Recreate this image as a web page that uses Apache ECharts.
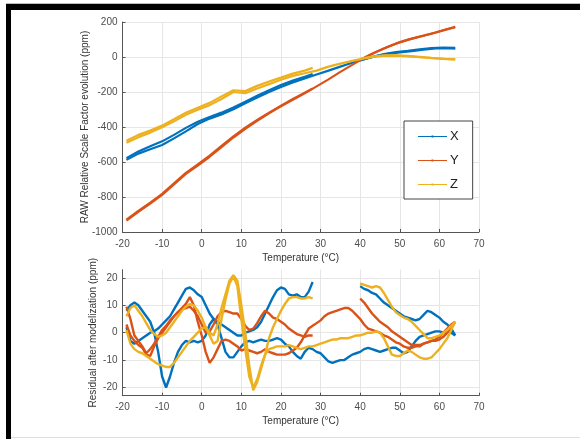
<!DOCTYPE html>
<html><head><meta charset="utf-8">
<script src="https://cdn.jsdelivr.net/npm/echarts@6/dist/echarts.min.js"></script>
<style>html,body{margin:0;padding:0;background:#fff}#c{width:580px;height:439px}</style>
</head><body><div id="c"></div>
<script>
// ---- tick labels ----
const xTicks = [-20,-10,0,10,20,30,40,50,60,70];
const rawYTicks = [-1000,-800,-600,-400,-200,0,200];
const resYTicks = [-20,-10,0,10,20];
const legendNames = ['X','Y','Z'];

// ---- raw scale factor (top) temperatures ----
const rawTCold = [-19,-16,-13,-10,-7,-4,-1,2,5,8,11,14,17,20,23,26,28];
const rawTFull = [-19,-16,-13,-10,-7,-4,-1,2,5,8,11,14,17,20,23,26,29,32,35,38,41,44,47,50,53,56,59,62,64];
const rawTWarm = [40,43,46,49,52,55,58,61,64];
// X
const rawXCold = [-578,-540,-510,-482,-445,-405,-370,-343,-318,-288,-255,-222,-190,-160,-135,-113,-97];
const rawXFull = [-588,-552,-527,-503,-465,-425,-383,-352,-328,-298,-264,-232,-200,-172,-145,-122,-100,-78,-55,-33,-12,5,18,26,33,42,49,50,48];
const rawXWarm = [-20,0,17,28,35,44,51,54,52];
// Y
const rawYCold = [-930,-880,-832,-782,-722,-662,-614,-564,-508,-453,-404,-360,-318,-278,-240,-204,-180];
const rawYFull = [-935,-885,-838,-788,-728,-668,-620,-570,-515,-460,-410,-365,-322,-282,-245,-208,-168,-128,-85,-45,-5,28,58,85,105,122,140,160,172];
const rawYWarm = [-15,18,48,76,98,116,133,152,170];
// Z
const rawZCold = [-478,-445,-420,-392,-355,-318,-290,-262,-225,-190,-195,-165,-140,-118,-95,-78,-62];
const rawZFull = [-490,-458,-432,-402,-367,-330,-302,-275,-240,-200,-207,-180,-155,-130,-108,-93,-78,-55,-38,-22,-8,3,8,6,2,-3,-8,-12,-14];
const rawZWarm = [-10,2,9,10,6,1,-5,-10,-14];

// ---- residual (bottom) temperatures ----
const resTFull = [-19,-18,-17,-16,-15,-14,-13,-12,-11,-10,-9,-8,-7,-6,-5,-4,-3,-2,-1,0,1,2,3,4,5,6,7,8,9,10,11,12,13,14,15,16,17,18,19,20,21,22,23,24,25,26,27,28,29,30,31,32,33,34,35,36,37,38,39,40,41,42,43,44,45,46,47,48,49,50,51,52,53,54,55,56,57,58,59,60,61,62,63,64];
const resTCold = [-19,-18,-17,-16,-15,-14,-13,-12,-11,-10,-9,-8,-7,-6,-5,-4,-3,-2,-1,0,1,2,3,4,5,6,7,8,9,10,11,12,13,14,15,16,17,18,19,20,21,22,23,24,25,26,27,28];
const resTWarm = [40,41,42,43,44,45,46,47,48,49,50,51,52,53,54,55,56,57,58,59,60,61,62,63,64];
// X
const resXFull = [8,10,11,10,8,6,4,0,-7,-16, -20,-16,-11,-7,-4.5,-3,-3.5,-3,-3.5,-3, -1,3,5,3,-2,-7,-9,-9,-7,-5, -3.5,-3,-3.5,-3,-2.5,-3,-3,-2.5,-2,-2.5, -4,-5,-7,-8.5,-9.5,-7,-5.5,-6,-7,-7.5, -9,-10.5,-11,-10.5,-10,-10,-9,-8,-7.5,-7, -6,-5.5,-6,-6.5,-7,-6.5,-6,-5.5,-5.5,-6.5, -7.5,-7,-5,-3,-1.5,-1,-0.5,0,0.5,0.5, 0,0.5,0,-1];
const resXCold = [2,-3,-4,-3,-2,-1,0,0.5,1.5,3, 4.5,6,8.5,11,13.5,16,16.5,15.5,14,13, 10,7,5,4,3,2,1,0,-1,-1, 0,0.5,1,2,4,7,10,13,15.5,16.5, 16,14,13.5,14,13,13,15,18.5];
const resXWarm = [17,16,15.5,14.5,14,12.5,11,10,9,8,7,6,5.5,5,4.5,5,6.5,8,7.5,6.5,5.5,4,3,1.5,-1];
// Y
const resYFull = [9.5,5,-1,-3,-5,-7.5,-6,-4,-1.5,1, 2.5,4.5,6,7.5,9,10.5,13,10,4,-1, -7,-11,-9,-6,-3,-2.5,-3,-4,-5,-6.5, -6,-6.5,-7,-7.5,-7,-6,-7,-7.5,-8,-8, -8,-7.5,-6.5,-5.5,-3.5,-1,1.5,2.5,3.5,4.5, 6,7,7.5,8,8.5,9,9,8,6.5,5, 3,1.5,1,0.5,0,-1,-1.5,-2.5,-3.5,-4, -5,-5.5,-5.5,-5,-5,-4,-3.5,-3,-3,-2.5, -1.5,0,2,4];
const resYCold = [3,-1,-3,-4.5,-5.5,-8,-8.5,-5,-2,0, 2,4,6,7.5,8.5,9,9.5,8,6,3, 0,0.5,3,6,7.5,8,7.5,7,7,5, 2.5,1,1.5,3.5,6,8,7,5.5,5,4, 3,1.5,0.5,-0.5,-1,-1.5,-1,-1];
const resYWarm = [12.5,11,9,7,5.5,4,3,2,0.5,-0.5,-1.5,-2.5,-3.5,-4.5,-4.5,-4.5,-4,-3.5,-3,-2.5,-1.5,0,1.5,3,4];
// Z
const resZFull = [1,-4,-6,-7,-7.5,-8.5,-9.5,-10.5,-11.5,-12, -12.5,-12.5,-11,-9,-7,-5,-3,-1.5,0,1.5, 2,-1,-4,-3,5,12,18,20.5,17,5, -6,-16,-20,-17,-12,-8,-6,-5.5,-5,-5, -5,-4.5,-5,-5.5,-6,-5.5,-5,-5,-4.5,-4, -3.5,-3,-2.5,-2.5,-2,-2,-2,-1.5,-1,-1, -0.5,0,0,0.5,0,-2,-5,-8,-8.5,-8.5, -7.5,-6.5,-7,-8,-9,-9.5,-9.5,-9,-7.5,-6, -4,-2,1,4];
const resZCold = [6,9,10,8,6,3.5,1,-0.5,-1.5,-1, 0,2,4,6,8,9.5,10.5,10,8,5.5, 2,0,-1,3,9,14,19,21,19,10, 0,-12,-21,-18,-13,-8,-2,2,5,8, 10.5,12.5,13,13,12.5,12.5,13,12.5];
const resZWarm = [18,17.5,17,16.5,17,16.5,14.5,12,9.5,7.5,6.5,5.5,5,4,2.5,1,-0.5,-2,-2,-1.5,-1,0,1,2.5,4];

const colors = {X:'#0072BD', Y:'#D95319', Z:'#EDB120'};
const zip = (t, v) => t.map((x, i) => [x, v[i]]);
function line(name, t, v, grid, w) {
  return {
    name, type:'line', xAxisIndex:grid, yAxisIndex:grid, data:zip(t, v),
    showSymbol:false, symbol:'circle', symbolSize:3, smooth:false, silent:true,
    lineStyle:{color:colors[name], width:w}, itemStyle:{color:colors[name]},
    emphasis:{disabled:true}, animation:false
  };
}
const series = [
  line('X', rawTCold, rawXCold, 0, 2.2), line('X', rawTFull, rawXFull, 0, 2.2), line('X', rawTWarm, rawXWarm, 0, 2.2),
  line('Y', rawTCold, rawYCold, 0, 2.2), line('Y', rawTFull, rawYFull, 0, 2.2), line('Y', rawTWarm, rawYWarm, 0, 2.2),
  line('Z', rawTCold, rawZCold, 0, 2.2), line('Z', rawTFull, rawZFull, 0, 2.2), line('Z', rawTWarm, rawZWarm, 0, 2.2),
  line('X', resTFull, resXFull, 1, 2.4), line('X', resTCold, resXCold, 1, 2.4), line('X', resTWarm, resXWarm, 1, 2.4),
  line('Y', resTFull, resYFull, 1, 2.4), line('Y', resTCold, resYCold, 1, 2.4), line('Y', resTWarm, resYWarm, 1, 2.4),
  line('Z', resTFull, resZFull, 1, 2.4), line('Z', resTCold, resZCold, 1, 2.4), line('Z', resTWarm, resZWarm, 1, 2.4)
];

const FONT = 'Liberation Sans';
const labelStyle = {color:'#4d4d4d', fontSize:10, fontFamily:FONT, formatter:(v)=>String(v)};
const axisLine = {show:true, onZero:false, lineStyle:{color:'#555', width:1}};
const tick = {show:true, inside:true, length:3, lineStyle:{color:'#555'}};
const split = {show:true, lineStyle:{color:'#e6e6e6', width:1}};
const nameStyle = {color:'#333', fontSize:10, fontFamily:FONT};
function xAx(grid) {
  return {type:'value', gridIndex:grid, min:xTicks[0], max:xTicks[xTicks.length-1], interval:10,
    name:'Temperature (°C)', nameLocation:'middle', nameGap:21, nameMoveOverlap:false,
    nameTextStyle:nameStyle,
    axisLine, axisTick:tick, splitLine:split, axisLabel:{...labelStyle, margin:7}};
}
const chart = echarts.init(document.getElementById('c'), null, {renderer:'canvas'});
chart.setOption({
  animation:false,
  backgroundColor:'#fff',
  grid:[
    {left:122.5, right:101, top:22, height:210, containLabel:false},
    {left:122.5, right:101, top:269.7, height:126, containLabel:false}
  ],
  xAxis:[xAx(0), xAx(1)],
  yAxis:[
    {type:'value', gridIndex:0, min:rawYTicks[0], max:rawYTicks[rawYTicks.length-1], interval:200,
     name:'RAW Relative Scale Factor evolution (ppm)', nameLocation:'middle', nameGap:32, nameMoveOverlap:false,
     nameTextStyle:nameStyle,
     axisLine, axisTick:tick, splitLine:split, axisLabel:{...labelStyle, margin:5}},
    {type:'value', gridIndex:1, min:-23, max:23,
     name:'Residual after modelization (ppm)', nameLocation:'middle', nameGap:24, nameMoveOverlap:false,
     nameTextStyle:nameStyle,
     axisLine, axisTick:{...tick, customValues:resYTicks}, splitLine:split,
     axisLabel:{...labelStyle, margin:5, customValues:resYTicks}}
  ],
  legend:{
    data:legendNames, orient:'vertical', left:404, top:121,
    padding:[9,14,8,14], itemGap:11, itemWidth:29, itemHeight:10,
    icon:'path://M0,4.5H29V5.5H0Z M13.5,4H15.5V6H13.5Z',
    borderColor:'#444', borderWidth:1, backgroundColor:'#fff',
    textStyle:{color:'#222', fontSize:13, fontFamily:FONT, padding:[0,0,0,-2]},
    selectedMode:false
  },
  series,
  graphic:[
    {type:'rect', left:6, top:4, shape:{width:5, height:435}, style:{fill:'#000'}, silent:true},
    {type:'rect', left:6, top:4, shape:{width:574, height:6}, style:{fill:'#000'}, silent:true},
    {type:'rect', left:6, top:3, shape:{width:574, height:1}, style:{fill:'#bbb'}, silent:true},
    {type:'rect', left:11, top:437, shape:{width:569, height:1}, style:{fill:'#e0e0e0'}, silent:true}
  ]
});
</script></body></html>
